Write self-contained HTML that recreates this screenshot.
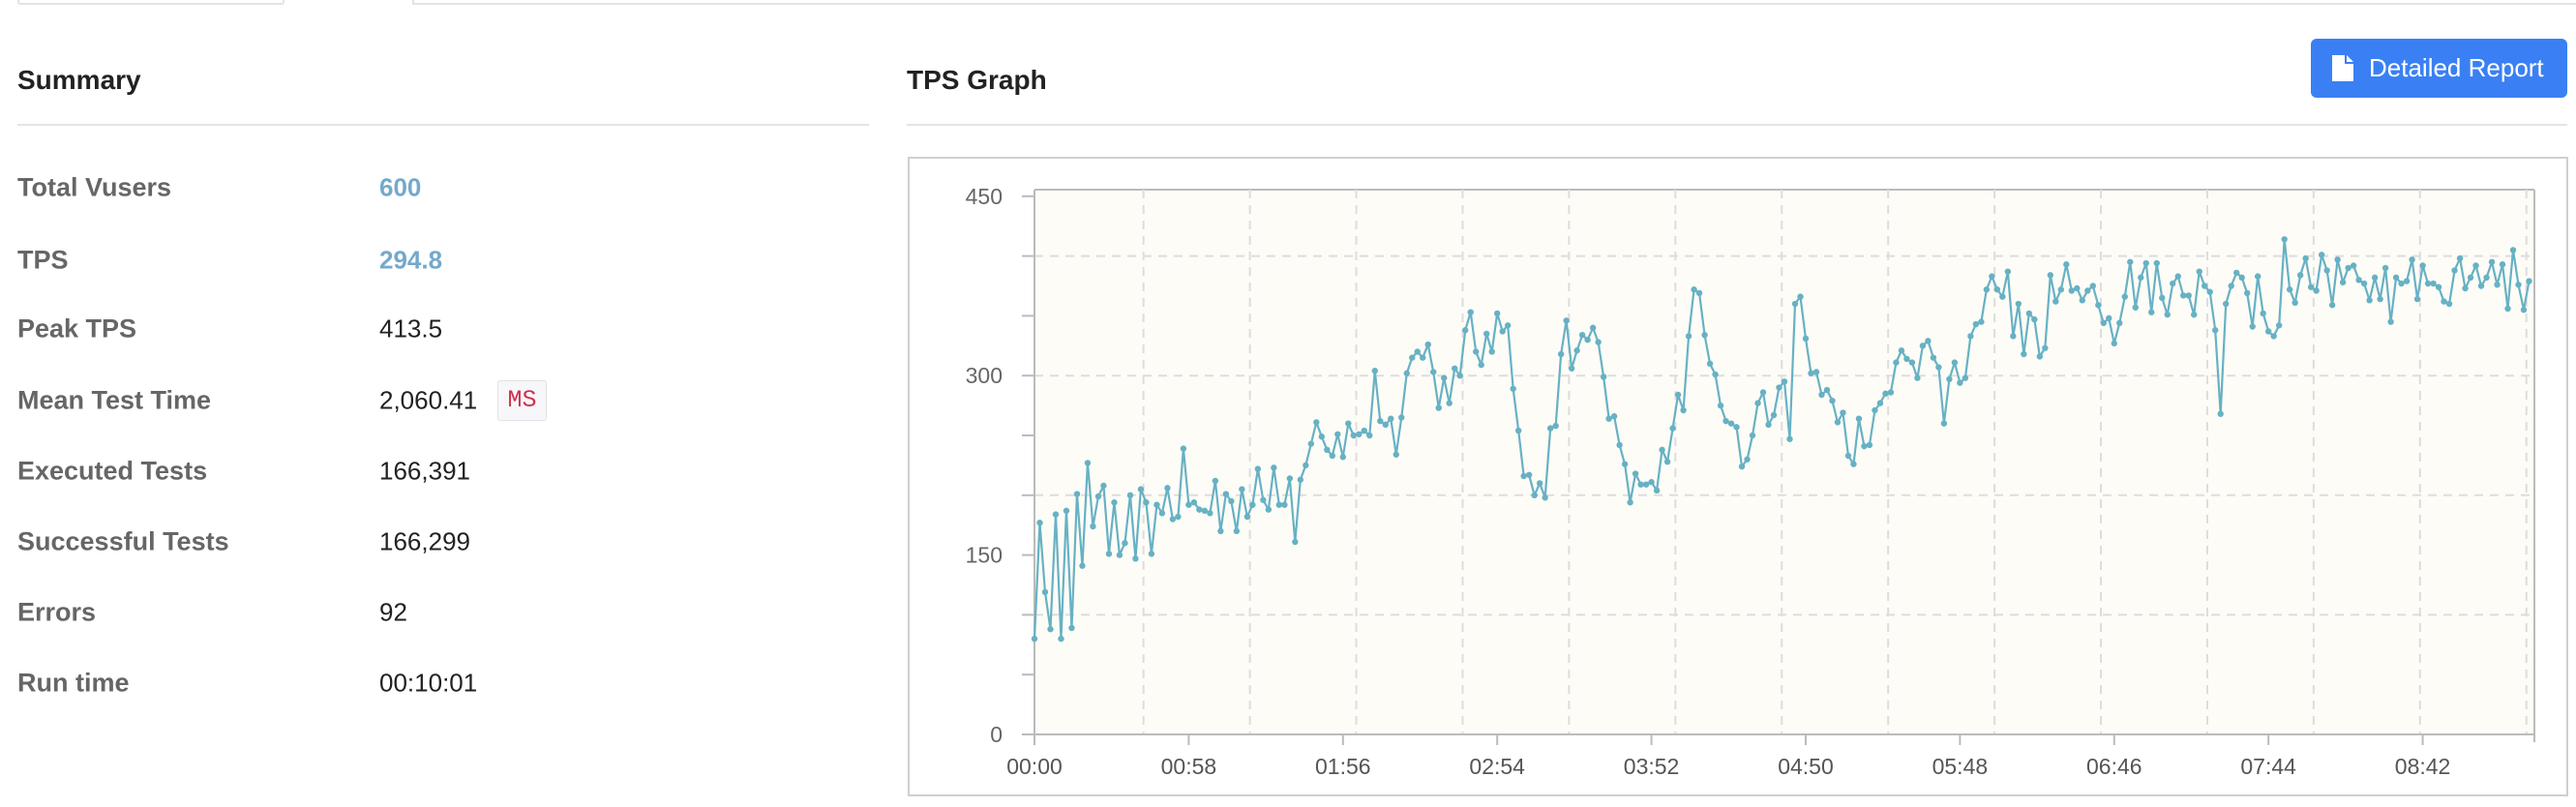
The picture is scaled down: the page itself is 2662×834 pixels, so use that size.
<!DOCTYPE html>
<html><head><meta charset="utf-8"><style>
body{margin:0;width:2662px;height:834px;background:#fff;font-family:"Liberation Sans",Arial,sans-serif;position:relative;overflow:hidden}
.abs{position:absolute}
.lbl{position:absolute;left:18px;font-weight:bold;font-size:27px;color:#666;transform:translateY(-50%)}
.val{position:absolute;left:392px;font-size:26px;color:#222;transform:translateY(-50%)}
</style></head><body>
<div class="abs" style="left:18px;top:-10px;width:272px;height:13px;border:2px solid #e3e3e3;border-top:none;border-radius:0 0 3px 3px"></div>
<div class="abs" style="left:426px;top:-10px;width:2240px;height:13px;border:2px solid #e3e3e3;border-top:none;border-right:none"></div>

<div class="abs" style="left:18px;top:67px;font-size:28px;font-weight:bold;color:#222">Summary</div>
<div class="abs" style="left:18px;top:128px;width:880px;height:2px;background:#e4e4e4"></div>

<div class="lbl" style="top:194px">Total Vusers</div>
<div class="val" style="top:194px;color:#74a9cb;font-weight:bold">600</div>
<div class="lbl" style="top:269px">TPS</div>
<div class="val" style="top:269px;color:#74a9cb;font-weight:bold">294.8</div>
<div class="lbl" style="top:340px">Peak TPS</div>
<div class="val" style="top:340px">413.5</div>
<div class="lbl" style="top:414px">Mean Test Time</div>
<div class="val" style="top:414px">2,060.41</div>
<div class="abs" style="left:514px;top:393px;width:49px;height:40px;border:1px solid #e1e1e8;background:#f7f7f9;border-radius:3px;color:#d0304c;font-family:'Liberation Mono',monospace;font-size:25px;line-height:40px;text-align:center">MS</div>
<div class="lbl" style="top:487px">Executed Tests</div>
<div class="val" style="top:487px">166,391</div>
<div class="lbl" style="top:560px">Successful Tests</div>
<div class="val" style="top:560px">166,299</div>
<div class="lbl" style="top:633px">Errors</div>
<div class="val" style="top:633px">92</div>
<div class="lbl" style="top:706px">Run time</div>
<div class="val" style="top:706px">00:10:01</div>

<div class="abs" style="left:937px;top:67px;font-size:28px;font-weight:bold;color:#222">TPS Graph</div>
<div class="abs" style="left:937px;top:128px;width:1716px;height:2px;background:#e4e4e4"></div>
<div class="abs" style="left:2388px;top:40px;width:265px;height:61px;background:#3a80f4;border-radius:6px;color:#fff;font-size:26px;line-height:61px">
<svg style="position:absolute;left:22px;top:17px" width="22" height="27" viewBox="0 0 22 27"><path d="M0 0H13V9H22V27H0Z M15 0L22 7H15Z" fill="#fff"/></svg>
<span style="position:absolute;left:60px">Detailed Report</span></div>

<div class="abs" style="left:938px;top:162px;width:1712px;height:657px;border:2px solid #cfcfcf"></div>
<svg id="chart" class="abs" style="left:0;top:0" width="2662" height="834"></svg>

<script>
const tpsValues=[80,177,119,88,184,80,187,89,201,141,227,174,199,208,151,194,150,160,200,147,205,194,151,192,185,206,180,182,239,192,194,188,187,185,212,170,201,195,170,205,182,192,222,196,188,223,192,192,214,161,213,225,243,261,249,238,233,251,232,260,250,251,254,250,304,262,259,264,234,265,302,315,320,315,326,303,273,298,277,306,300,338,353,320,309,335,320,352,337,342,289,254,216,217,200,210,198,256,258,318,346,306,321,334,330,340,328,299,264,266,242,226,194,218,209,209,211,204,238,228,256,284,271,333,372,369,334,310,301,275,262,260,257,224,230,250,277,286,259,267,290,295,247,360,366,331,302,303,284,288,279,261,269,233,226,264,241,242,271,277,285,286,311,321,314,311,298,325,329,315,307,260,297,311,294,298,333,343,345,372,383,372,366,387,333,360,318,352,347,316,323,384,362,372,393,371,373,363,371,375,359,344,348,327,344,366,395,357,382,394,353,394,365,351,377,383,367,367,351,387,375,370,338,268,360,375,386,382,369,341,383,352,337,333,342,414,372,361,384,398,374,371,401,388,359,397,378,390,392,380,377,363,382,364,390,345,382,377,379,397,364,392,377,377,374,362,360,388,398,373,382,392,375,382,395,376,393,356,405,376,355,379];
const secondsPerPoint=[2];
const xTickSeconds=[0,58,116,174,232,290,348,406,464,522];
const xTickLabels=["00:00","00:58","01:56","02:54","03:52","04:50","05:48","06:46","07:44","08:42"];
const yTickValues=[0,150,300,450];
const yGridValues=[100,200,300,400];
const yMinorTicks=[0,50,100,150,200,250,300,350,400,450];
const xGridSeconds=[41,81,121,161,201,241,281,321,361,401,441,481,521,561];

(function(){
const svg=document.getElementById('chart');
const NS='http://www.w3.org/2000/svg';
const L=1069,R=2619,T=196,B=759,TMAX=564;
const x=t=>L+t*(R-L)/TMAX;
const y=v=>B-v*1.236;
function mk(tag,attrs){const e=document.createElementNS(NS,tag);for(const k in attrs)e.setAttribute(k,attrs[k]);svg.appendChild(e);return e;}

const bg=mk('rect',{x:L,y:T,width:R-L,height:B-T,fill:'#fdfcf7'});


const topBorder=mk('line',{x1:L,x2:R,y1:T,y2:T,stroke:'#bbb','stroke-width':2});


yGridValues.forEach(v=>{const g=mk('line',{x1:L,x2:R,y1:y(v),y2:y(v),stroke:'#ddd','stroke-width':2,'stroke-dasharray':'9 7'});

});
xGridSeconds.forEach(s=>{const g=mk('line',{x1:x(s),x2:x(s),y1:T,y2:B,stroke:'#ddd','stroke-width':2,'stroke-dasharray':'9 7'});

});
const ya=mk('line',{x1:L,x2:L,y1:T,y2:B,stroke:'#bbb','stroke-width':2});


const xa=mk('line',{x1:L-1,x2:R+1,y1:B,y2:B,stroke:'#bbb','stroke-width':2});


const ra=mk('line',{x1:R,x2:R,y1:T,y2:B+8,stroke:'#bbb','stroke-width':2});


yMinorTicks.forEach(v=>{const t=mk('line',{x1:L-13,x2:L,y1:y(v),y2:y(v),stroke:'#bbb','stroke-width':2});

});
yTickValues.forEach(v=>{const t=mk('text',{x:1036,y:y(v)+8,'text-anchor':'end','font-size':23,fill:'#666','font-family':'Liberation Sans, sans-serif'});t.textContent=v;

});
xTickSeconds.forEach((s,i)=>{const k=mk('line',{x1:x(s),x2:x(s),y1:B,y2:B+11,stroke:'#bbb','stroke-width':2});


const t=mk('text',{x:x(s),y:B+41,'text-anchor':'middle','font-size':23,fill:'#555','font-family':'Liberation Sans, sans-serif'});t.textContent=xTickLabels[i];

});
const pts=tpsValues.map((v,i)=>[x(i*secondsPerPoint[0]),y(v)]);
const line=mk('polyline',{points:pts.map(p=>p.join(',')).join(' '),fill:'none',stroke:'#67b1c4','stroke-width':2.2,'stroke-linejoin':'round'});


pts.forEach(p=>{const c=mk('circle',{cx:p[0],cy:p[1],r:3.2,fill:'#67b1c4'});

});
})();
</script>
</body></html>
